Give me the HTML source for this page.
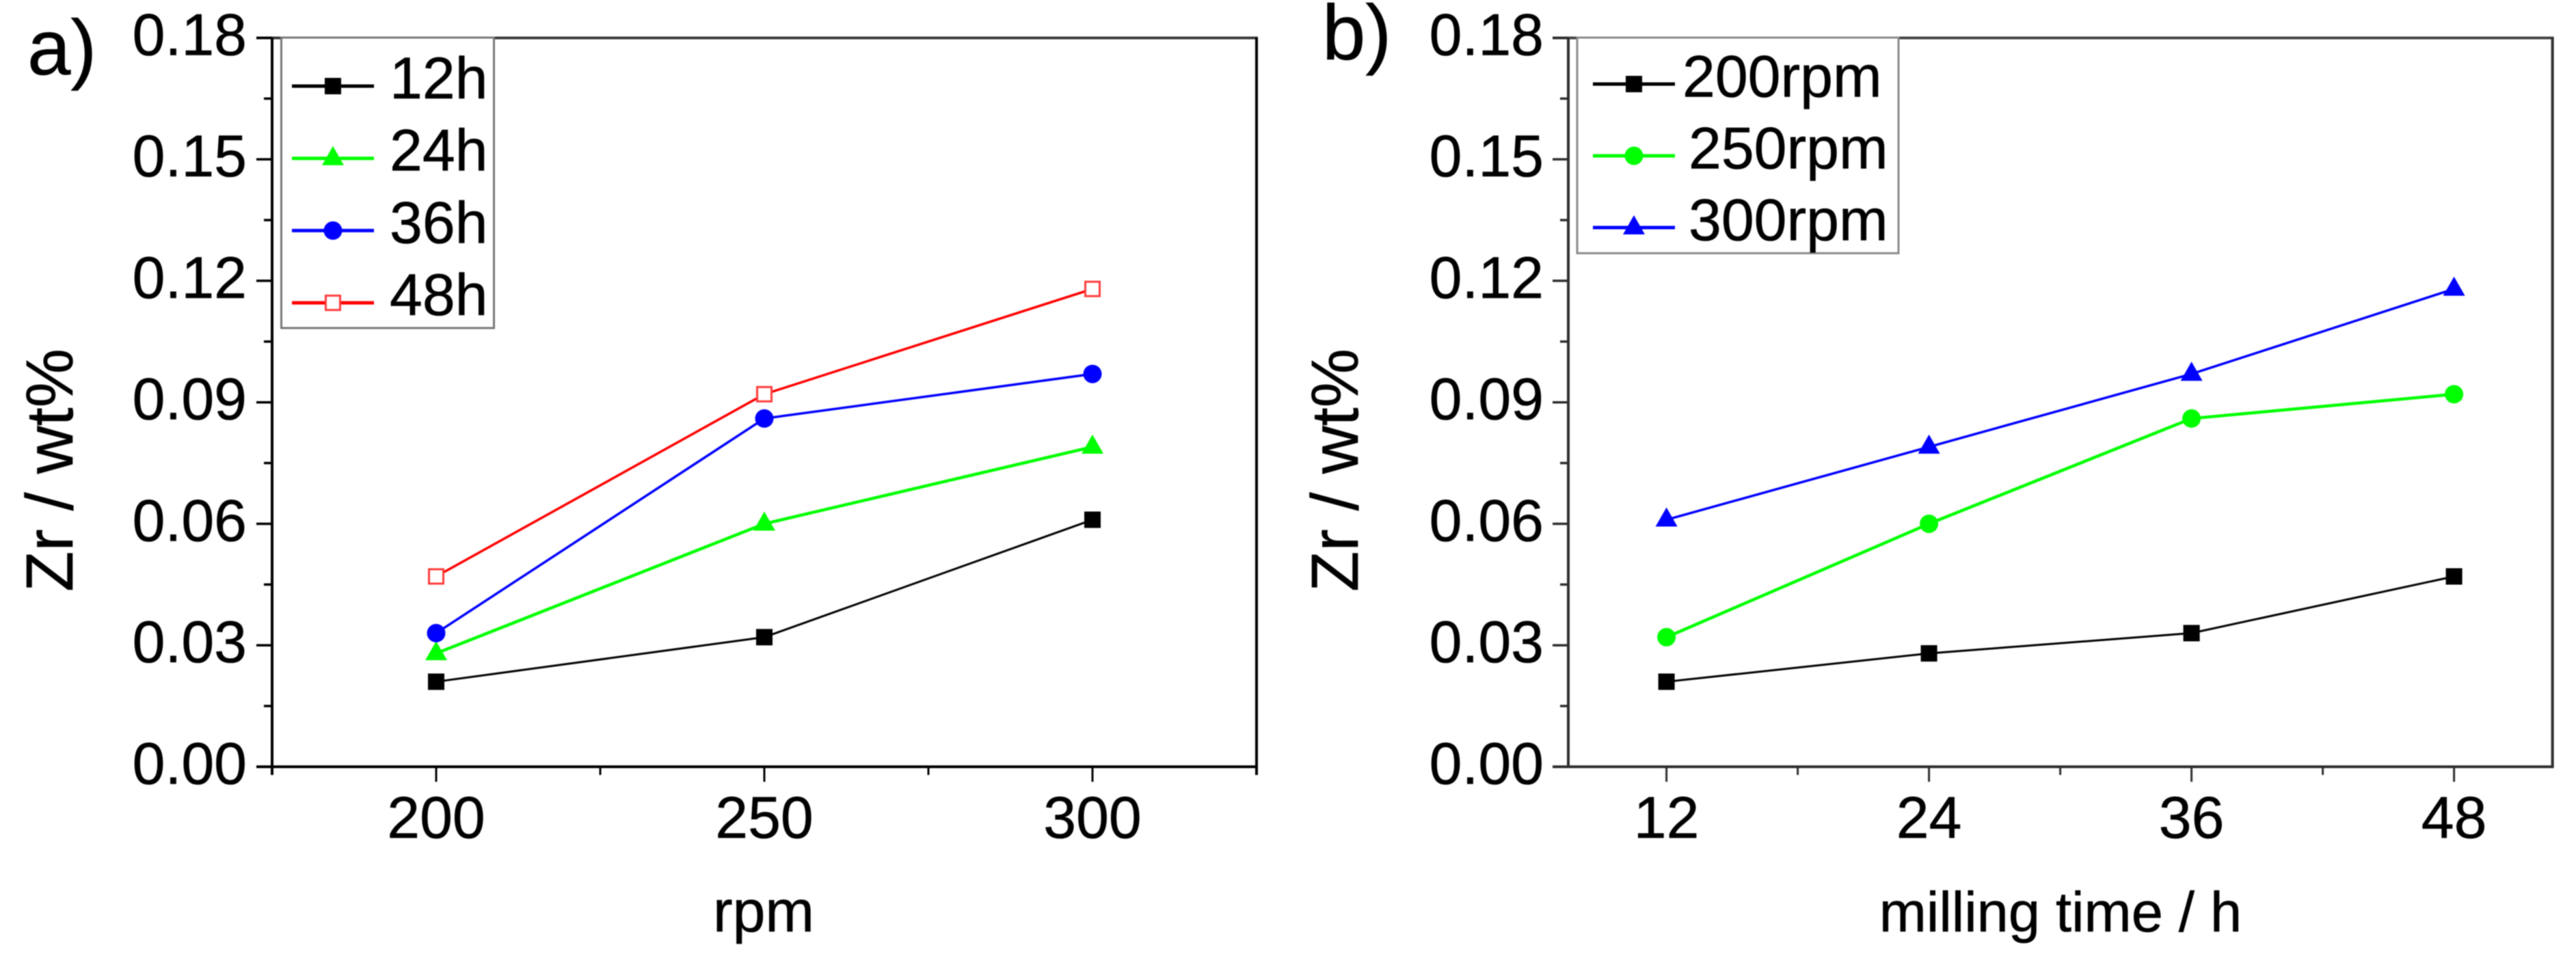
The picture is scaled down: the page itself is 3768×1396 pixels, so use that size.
<!DOCTYPE html>
<html lang="en">
<head>
<meta charset="utf-8">
<title>Zr content vs rpm and milling time</title>
<style>
html,body{margin:0;padding:0;background:#fff;}
body{width:3768px;height:1396px;overflow:hidden;}
svg{display:block;filter:blur(0.9px);}
text{font-family:"Liberation Sans",sans-serif;fill:#000;stroke:#000;stroke-width:0.6px;}
</style>
</head>
<body>
<svg id="figure" xmlns="http://www.w3.org/2000/svg" width="3768" height="1396" viewBox="0 0 3768 1396"></svg>
<script>
// Shared y axis
const yTickLabels = ['0.00', '0.03', '0.06', '0.09', '0.12', '0.15', '0.18'];
const yTicks = [0, 0.03, 0.06, 0.09, 0.12, 0.15, 0.18];
const yMinorTicks = [0.015, 0.045, 0.075, 0.105, 0.135, 0.165];

// Panel a
const rpmCategories = [200, 250, 300];
const rpmTickLabels = ['200', '250', '300'];
const rpmMinorTicks = [175, 225, 275, 325];
const seriesA12h = [0.021, 0.032, 0.061];
const seriesA24h = [0.028, 0.060, 0.079];
const seriesA36h = [0.033, 0.086, 0.097];
const seriesA48h = [0.047, 0.092, 0.118];

// Panel b
const timeCategories = [12, 24, 36, 48];
const timeTickLabels = ['12', '24', '36', '48'];
const timeMinorTicks = [18, 30, 42];
const seriesB200 = [0.021, 0.028, 0.033, 0.047];
const seriesB250 = [0.032, 0.060, 0.086, 0.092];
const seriesB300 = [0.061, 0.079, 0.097, 0.118];

const svg = document.getElementById('figure');
const NS = 'http://www.w3.org/2000/svg';

function make(tag, attrs, parent) {
  const el = document.createElementNS(NS, tag);
  for (const k in attrs) el.setAttribute(k, attrs[k]);
  parent.appendChild(el);
  return el;
}

function yScale(v) {
  return 1122 - (v / 0.18) * (1122 - 55.4);
}

function axisLine(parent, x1, y1, x2, y2, color, width, name) {
  const el = make('line', {x1, y1, x2, y2, stroke: color, 'stroke-width': width}, parent);
  
  
  return el;
}

function label(parent, x, y, str, size, anchor, name) {
  const el = make('text', {x, y, 'font-size': size, 'text-anchor': anchor}, parent);
  el.textContent = str;
  
  
  return el;
}

function marker(parent, kind, x, y, color, name) {
  let el;
  if (kind === 'square') {
    el = make('rect', {x: x - 12, y: y - 12, width: 24, height: 24, fill: color}, parent);
  } else if (kind === 'open') {
    el = make('rect', {x: x - 10.5, y: y - 10.5, width: 21, height: 21, fill: '#fff', stroke: '#ff3c3c', 'stroke-width': 3}, parent);
  } else if (kind === 'circle') {
    el = make('circle', {cx: x, cy: y, r: 13.5, fill: color}, parent);
  } else {
    el = make('polygon', {points: (x - 16) + ',' + (y + 10) + ' ' + x + ',' + (y - 18) + ' ' + (x + 16) + ',' + (y + 10), fill: color}, parent);
  }
  
  
  return el;
}

function drawPanel(cfg) {
  const g = make('g', {}, svg);
  
  

  const xs = cfg.xScale;
  const c = cfg.axisColor;

  // frame
  axisLine(g, cfg.left - 23, 55.5, cfg.right + 2, 55.5, cfg.topColor, 4, cfg.id + '-top-axis');
  axisLine(g, cfg.left, 55, cfg.left, 1144 - cfg.leftDrop, c, 4, cfg.id + '-y-axis');
  axisLine(g, cfg.right, 55, cfg.right, 1122 + cfg.rightDrop, c, 4, cfg.id + '-right-axis');
  axisLine(g, cfg.left - 23, 1122, cfg.right + 2, 1122, c, 4, cfg.id + '-x-axis');

  // y ticks
  yTicks.forEach(function (v, i) {
    axisLine(g, cfg.left - 23, yScale(v), cfg.left, yScale(v), c, 3.5, cfg.id + '-y-tick');
    label(g, cfg.labelRight, yScale(v) + 25, yTickLabels[i], 86, 'end', cfg.id + '-y-tick-label');
  });
  yMinorTicks.forEach(function (v) {
    axisLine(g, cfg.left - 12, yScale(v), cfg.left, yScale(v), c, 3.5, cfg.id + '-y-minor-tick');
  });

  // x ticks
  cfg.categories.forEach(function (v, i) {
    axisLine(g, xs(v), 1122, xs(v), 1144, c, 3, cfg.id + '-x-tick');
    label(g, xs(v), 1226, cfg.tickLabels[i], 86, 'middle', cfg.id + '-x-tick-label');
  });
  cfg.minorTicks.forEach(function (v) {
    axisLine(g, xs(v), 1122, xs(v), 1134, c, 3, cfg.id + '-x-minor-tick');
  });

  // titles
  const yt = label(g, 0, 0, 'Zr / wt%', 97, 'middle', cfg.id + '-y-axis-title');
  yt.setAttribute('transform', 'translate(' + cfg.yTitleX + ',688) rotate(-90)');
  label(g, cfg.xTitleX, 1363, cfg.xTitle, cfg.xTitleSize, 'middle', cfg.id + '-x-axis-title');
  label(g, cfg.tagX, cfg.tagY, cfg.tag, 114, 'start', cfg.id + '-panel-tag');

  // series
  cfg.series.forEach(function (s) {
    const sg = make('g', {}, g);
    
    
    const pts = s.values.map(function (v, i) { return xs(cfg.categories[i]) + ',' + yScale(v); }).join(' ');
    const pl = make('polyline', {points: pts, fill: 'none', stroke: s.color, 'stroke-width': s.width}, sg);
    
    
    s.values.forEach(function (v, i) {
      marker(sg, s.kind, xs(cfg.categories[i]), yScale(v), s.color, cfg.id + '-point-' + s.name);
    });
  });

  // legend
  const lg = make('g', {}, g);
  
  
  const L = cfg.legend;
  const box = make('rect', {x: L.x, y: L.y, width: L.w, height: L.h, fill: '#fff', stroke: L.color, 'stroke-width': 3}, lg);
  
  
  cfg.series.forEach(function (s, i) {
    const y = L.firstY + i * L.step;
    const e = make('g', {}, lg);
    
    
    const ln = make('line', {x1: L.lineX1, y1: y, x2: L.lineX2, y2: y, stroke: s.color, 'stroke-width': 5}, e);
    
    
    marker(e, s.kind, (L.lineX1 + L.lineX2) / 2, y, s.color, cfg.id + '-legend-marker-' + s.name);
    label(e, L.textX[i], y + L.textDy, s.name, 86, 'start', cfg.id + '-legend-label-' + s.name);
  });
}

function xScaleA(v) {
  return 638 + (v - 200) * 9.6;
}
function xScaleB(v) {
  return 2437.6 + (v - 12) * 32;
}

drawPanel({
  id: 'panel-a', tag: 'a)', tagX: 40, tagY: 109,
  left: 398, right: 1838, leftDrop: 10, rightDrop: 12,
  axisColor: '#000', topColor: '#3a3a3a', labelRight: 361,
  yTitleX: 106, xTitle: 'rpm', xTitleX: 1117, xTitleSize: 86,
  xScale: xScaleA,
  categories: rpmCategories, tickLabels: rpmTickLabels, minorTicks: rpmMinorTicks,
  series: [
    {name: '12h', values: seriesA12h, color: '#000000', width: 3, kind: 'square'},
    {name: '24h', values: seriesA24h, color: '#00ff00', width: 4.5, kind: 'triangle'},
    {name: '36h', values: seriesA36h, color: '#0000ff', width: 3.5, kind: 'circle'},
    {name: '48h', values: seriesA48h, color: '#ff0000', width: 3.5, kind: 'open'}
  ],
  legend: {x: 411.5, y: 55, w: 311, h: 425, color: '#777', firstY: 126, step: 105.7,
           lineX1: 427, lineX2: 547, textX: [570, 570, 570, 570], textDy: 18}
});

drawPanel({
  id: 'panel-b', tag: 'b)', tagX: 1934, tagY: 87,
  left: 2294, right: 3733.6, leftDrop: 22, rightDrop: 0,
  axisColor: '#2e2e2e', topColor: '#444', labelRight: 2258,
  yTitleX: 1986, xTitle: 'milling time / h', xTitleX: 3014, xTitleSize: 83,
  xScale: xScaleB,
  categories: timeCategories, tickLabels: timeTickLabels, minorTicks: timeMinorTicks,
  series: [
    {name: '200rpm', values: seriesB200, color: '#000000', width: 3, kind: 'square'},
    {name: '250rpm', values: seriesB250, color: '#00ff00', width: 4.5, kind: 'circle'},
    {name: '300rpm', values: seriesB300, color: '#0000ff', width: 3.5, kind: 'triangle'}
  ],
  legend: {x: 2307, y: 55, w: 470, h: 315.5, color: '#8a8a8a', firstY: 123, step: 105,
           lineX1: 2330, lineX2: 2450, textX: [2461, 2470, 2470], textDy: 18.5}
});
</script>
</body>
</html>
